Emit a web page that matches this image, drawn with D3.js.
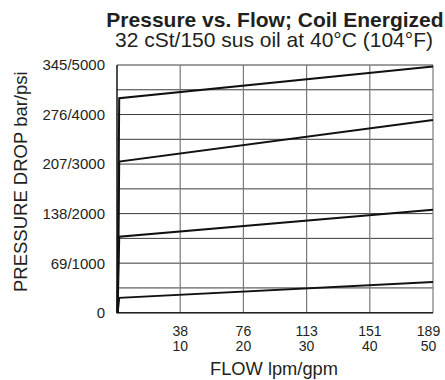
<!DOCTYPE html>
<html>
<head>
<meta charset="utf-8">
<script src="https://cdn.jsdelivr.net/npm/d3@7/dist/d3.min.js"></script>
<style>
  html, body { margin: 0; padding: 0; background: #fff; }
  svg { display: block; font-family: "Liberation Sans", Arial, Helvetica, sans-serif; }
</style>
</head>
<body>
<svg id="chart" width="445" height="380"></svg>
<script>
// Flow points (gpm) shared by every curve: start of rise, cracking knee, full flow
const flowGpm = [0.1, 0.35, 50];

// Pressure drop (psi) for each setting curve at the flow points above
const curveA = [0, 4330, 4970];
const curveB = [0, 3050, 3890];
const curveC = [0, 1535, 2080];
const curveD = [0, 300, 620];
const curves = [curveA, curveB, curveC, curveD];

// Axis ticks and their dual-unit labels
const xTicks = [10, 20, 30, 40, 50];
const xLpm = ["38", "76", "113", "151", "189"];
const xGpm = ["10", "20", "30", "40", "50"];
const yTicks = [0, 1000, 2000, 3000, 4000, 5000];
const yLabels = ["0", "69/1000", "138/2000", "207/3000", "276/4000", "345/5000"];
const yGrid = d3.range(0, 5001, 500);

const textColor = "#231f20";
const plotL = 117, plotR = 433, plotT = 65, plotB = 312.7;

const svg = d3.select("#chart");
svg.append("rect").attr("width", 445).attr("height", 380).attr("fill", "#fff");

const x = d3.scaleLinear().domain([0, 50]).range([plotL, plotR]);
const y = d3.scaleLinear().domain([0, 5000]).range([plotB, plotT]);

// Grid: horizontal every 500 psi, vertical every 10 gpm
const grid = svg.append("g");
grid.selectAll("line.h").data(yGrid).join("line")
  .attr("class", "h")
  .attr("x1", plotL).attr("x2", plotR)
  .attr("y1", d => y(d)).attr("y2", d => y(d))
  .attr("stroke", "#3a3a3a").attr("stroke-width", 1);
grid.selectAll("line.v").data(xTicks).join("line")
  .attr("class", "v")
  .attr("x1", d => x(d)).attr("x2", d => x(d))
  .attr("y1", plotT).attr("y2", plotB)
  .attr("stroke", "#7a7a7a").attr("stroke-width", 1.2);

// Left and bottom axis lines
svg.append("line").attr("x1", plotL).attr("x2", plotL).attr("y1", plotT).attr("y2", plotB + 0.5)
  .attr("stroke", "#222").attr("stroke-width", 1.6);
svg.append("line").attr("x1", plotL).attr("x2", plotR).attr("y1", plotB).attr("y2", plotB)
  .attr("stroke", "#222").attr("stroke-width", 1.6);

// Pressure/flow curves
const line = d3.line().x((d, i) => x(flowGpm[i])).y(d => y(d));
svg.append("g").selectAll("path").data(curves).join("path")
  .attr("d", line)
  .attr("fill", "none")
  .attr("stroke", "#111")
  .attr("stroke-width", 2)
  .attr("stroke-linejoin", "miter");

// Y tick labels
svg.append("g").selectAll("text").data(yTicks).join("text")
  .attr("x", plotL - 12)
  .attr("y", d => y(d))
  .attr("dy", "0.36em")
  .attr("text-anchor", "end")
  .attr("font-size", 15)
  .attr("fill", textColor)
  .text((d, i) => yLabels[i]);

// X tick labels: lpm over gpm
const xt = svg.append("g").selectAll("g").data(xTicks).join("g")
  .attr("transform", (d, i) => `translate(${x(d) - (i === xTicks.length - 1 ? 4.5 : 0)},0)`);
xt.append("text").attr("y", 336.4).attr("text-anchor", "middle").attr("font-size", 14)
  .attr("fill", textColor).text((d, i) => xLpm[i]);
xt.append("text").attr("y", 350.7).attr("text-anchor", "middle").attr("font-size", 14)
  .attr("fill", textColor).text((d, i) => xGpm[i]);

// Axis titles
svg.append("text")
  .attr("x", 274).attr("y", 375)
  .attr("text-anchor", "middle").attr("font-size", 18.3).attr("fill", textColor)
  .text("FLOW lpm/gpm");
svg.append("text")
  .attr("transform", "translate(26.7,181.7) rotate(-90)")
  .attr("text-anchor", "middle").attr("font-size", 18.5).attr("fill", textColor)
  .text("PRESSURE DROP bar/psi");

// Title and subtitle
svg.append("text")
  .attr("x", 275).attr("y", 26.7)
  .attr("text-anchor", "middle").attr("font-size", 21).attr("font-weight", "bold").attr("fill", textColor)
  .text("Pressure vs. Flow; Coil Energized");
svg.append("text")
  .attr("x", 274).attr("y", 46.7)
  .attr("text-anchor", "middle").attr("font-size", 21).attr("fill", textColor)
  .text("32 cSt/150 sus oil at 40°C (104°F)");
</script>
</body>
</html>
